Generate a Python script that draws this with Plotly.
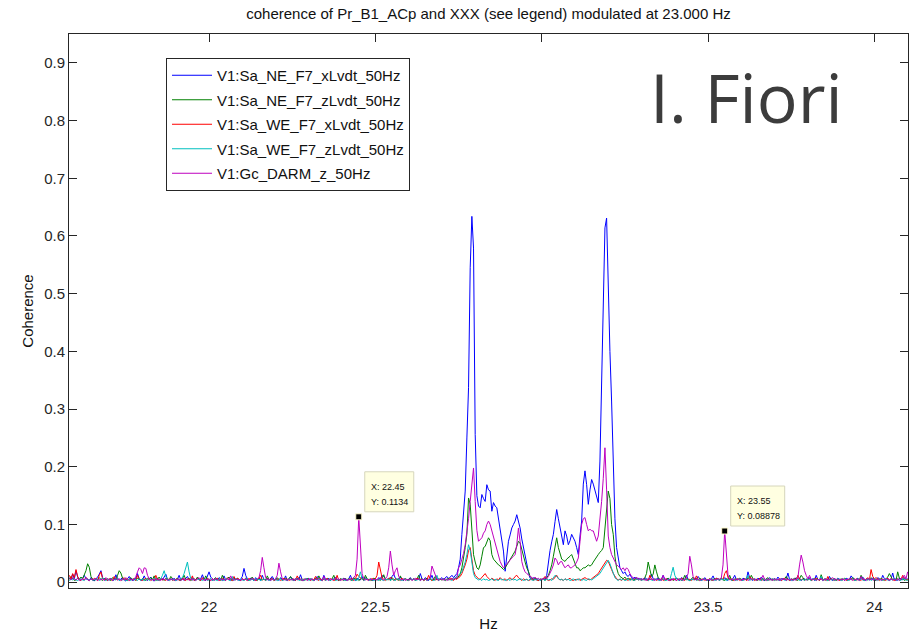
import numpy as np
import plotly.graph_objects as go

# Frequency grid (Hz): 21.58 .. 24.10 in 0.005 Hz bins
f_start = 21.58
f_step = 0.005
n_bins = 505

# Coherence values, in units of 0.001
# (4 bins 21.580-21.595, then one row per 0.1 Hz from 21.6 to 24.0, then 24.10)
coh_NE_x_milli = [
    8, 4, 14, 6,
    20, 9, 5, 3, 7, 12, 6, 4, 3, 8, 5, 2, 6, 9, 14, 20, 8, 4, 6, 3,
    5, 7, 3, 4, 13, 6, 3, 5, 8, 4, 2, 6, 10, 5, 3, 4, 7, 15, 6, 3,
    4, 11, 5, 3, 6, 9, 4, 2, 5, 7, 3, 6, 4, 8, 14, 5, 3, 6, 4, 7,
    3, 5, 12, 4, 6, 3, 7, 10, 5, 4, 8, 3, 5, 7, 4, 6, 13, 5, 3, 12,
    18, 9, 5, 3, 6, 4, 8, 5, 3, 11, 4, 6, 9, 3, 5, 8, 4, 6, 3, 5,
    10, 24, 12, 6, 4, 7, 5, 3, 8, 4, 6, 3, 12, 5, 4, 7, 3, 6, 10, 5,
    4, 6, 3, 8, 5, 4, 11, 3, 5, 9, 6, 4, 3, 7, 5, 13, 4, 3, 6, 5,
    7, 4, 6, 3, 5, 10, 6, 4, 3, 12, 5, 4, 7, 3, 6, 4, 9, 5, 3, 6,
    4, 7, 5, 3, 6, 12, 4, 5, 3, 7, 5, 4, 10, 3, 8, 5, 4, 6, 3, 5,
    6, 4, 8, 5, 12, 9, 6, 4, 7, 5, 10, 14, 7, 4, 6, 9, 5, 3, 7, 4,
    5, 8, 4, 6, 3, 7, 5, 15, 6, 4, 8, 5, 3, 6, 12, 4, 5, 7, 3, 6,
    8, 5, 7, 10, 6, 9, 12, 8, 11, 15, 25, 40, 83, 120, 158, 250, 337, 545, 634, 579,
    256, 150, 132, 129, 152, 145, 140, 169, 160, 158, 123, 138, 132, 129, 110, 89, 70, 54, 19, 45,
    71, 82, 94, 100, 106, 117, 105, 94, 75, 60, 45, 36, 18, 7, 5, 8, 4, 6, 3, 5,
    4, 7, 5, 12, 36, 55, 70, 83, 105, 126, 110, 94, 80, 65, 89, 80, 65, 72, 83, 78,
    71, 60, 48, 80, 106, 170, 193, 169, 135, 160, 178, 170, 158, 145, 138, 210, 360, 516, 614, 631,
    487, 400, 314, 198, 110, 60, 40, 25, 20, 15, 18, 12, 10, 14, 8, 6, 9, 5, 7, 4,
    6, 4, 8, 5, 3, 7, 14, 6, 4, 5, 8, 3, 6, 12, 5, 4, 7, 3, 5, 6,
    4, 7, 5, 3, 8, 6, 4, 12, 5, 3, 6, 4, 7, 5, 10, 6, 3, 5, 8, 4,
    5, 3, 6, 11, 4, 7, 5, 3, 6, 4, 8, 5, 3, 7, 4, 6, 12, 5, 4, 6,
    3, 7, 5, 4, 18, 8, 5, 3, 6, 4, 7, 5, 9, 4, 3, 6, 5, 8, 4, 5,
    6, 4, 9, 5, 3, 7, 4, 6, 16, 5, 3, 6, 4, 8, 5, 7, 3, 5, 6, 4,
    5, 8, 4, 6, 3, 12, 5, 4, 7, 3, 6, 5, 4, 10, 5, 3, 6, 4, 7, 5,
    4, 6, 3, 7, 5, 4, 11, 6, 3, 5, 7, 4, 6, 9, 5, 3, 6, 4, 5, 7,
    5, 3, 8, 6, 4, 12, 6, 4, 7, 3, 5, 16, 4, 6, 3, 7, 5, 4, 8, 5,
    6,
]

coh_NE_z_milli = [
    5, 10, 6, 3,
    4, 7, 5, 9, 6, 12, 20, 32, 26, 10, 5, 3, 6, 4, 8, 5, 3, 7, 4, 6,
    5, 3, 8, 6, 4, 12, 20, 16, 7, 4, 6, 3, 5, 8, 4, 6, 3, 7, 5, 4,
    6, 4, 3, 7, 5, 8, 4, 11, 3, 5, 9, 4, 6, 3, 7, 5, 4, 10, 6, 3,
    5, 7, 4, 3, 6, 12, 5, 4, 7, 3, 5, 6, 4, 9, 5, 3, 6, 4, 11, 5,
    4, 6, 3, 5, 8, 4, 6, 3, 12, 5, 4, 6, 9, 5, 3, 6, 4, 7, 5, 3,
    6, 4, 7, 5, 3, 6, 9, 4, 5, 3, 7, 5, 4, 6, 3, 11, 5, 4, 6, 3,
    5, 8, 4, 6, 3, 5, 7, 4, 6, 10, 5, 3, 6, 4, 8, 5, 3, 6, 4, 7,
    4, 6, 5, 3, 7, 4, 11, 5, 3, 6, 4, 7, 5, 3, 6, 12, 4, 5, 3, 6,
    5, 3, 7, 4, 6, 5, 3, 8, 4, 6, 3, 5, 7, 4, 12, 6, 4, 5, 3, 7,
    6, 4, 5, 3, 7, 13, 5, 4, 6, 3, 8, 5, 4, 6, 3, 11, 5, 4, 6, 3,
    5, 7, 4, 6, 3, 5, 12, 4, 6, 3, 5, 7, 4, 6, 3, 5, 10, 4, 6, 5,
    4, 6, 3, 5, 7, 4, 6, 5, 8, 6, 10, 14, 25, 40, 60, 83, 146, 135, 83, 48,
    35, 25, 22, 30, 45, 60, 62, 70, 77, 72, 48, 40, 36, 34, 30, 28, 25, 22, 25, 30,
    36, 40, 45, 50, 54, 62, 71, 68, 55, 48, 35, 25, 19, 10, 6, 4, 7, 5, 3, 6,
    4, 6, 3, 8, 12, 20, 30, 45, 65, 77, 60, 48, 40, 38, 36, 40, 42, 45, 48, 40,
    30, 25, 25, 20, 22, 25, 25, 28, 30, 28, 30, 35, 40, 45, 48, 52, 55, 60, 90, 123,
    158, 145, 100, 83, 45, 25, 15, 10, 8, 6, 9, 5, 7, 4, 6, 3, 5, 8, 4, 6,
    5, 4, 8, 15, 35, 20, 10, 14, 30, 18, 8, 5, 4, 6, 3, 5, 7, 4, 6, 3,
    5, 7, 4, 6, 3, 5, 12, 4, 6, 3, 5, 9, 4, 6, 3, 7, 5, 4, 6, 3,
    4, 6, 5, 3, 7, 4, 6, 5, 8, 4, 3, 6, 5, 12, 4, 3, 6, 5, 4, 7,
    5, 3, 6, 4, 8, 5, 12, 6, 4, 5, 3, 7, 4, 6, 3, 5, 8, 4, 6, 3,
    6, 4, 5, 3, 7, 4, 6, 10, 5, 3, 6, 4, 7, 5, 3, 6, 12, 8, 4, 5,
    4, 6, 3, 5, 7, 4, 6, 3, 13, 5, 4, 6, 3, 5, 7, 4, 6, 3, 5, 4,
    6, 4, 7, 5, 3, 6, 4, 8, 5, 3, 6, 4, 12, 5, 3, 6, 4, 5, 8, 4,
    5, 3, 6, 4, 7, 5, 3, 6, 9, 15, 8, 4, 6, 3, 18, 7, 4, 6, 3, 5,
    4,
]

coh_WE_x_milli = [
    12, 6, 15, 8,
    22, 10, 5, 3, 6, 4, 8, 5, 3, 6, 4, 7, 5, 3, 12, 18, 6, 4, 5, 3,
    6, 4, 3, 10, 5, 4, 6, 3, 5, 8, 4, 6, 3, 5, 4, 7, 3, 12, 6, 4,
    3, 5, 7, 4, 6, 3, 5, 4, 12, 5, 3, 6, 4, 5, 3, 7, 4, 6, 3, 5,
    4, 6, 3, 5, 7, 4, 3, 6, 5, 4, 11, 3, 5, 6, 4, 3, 8, 5, 4, 6,
    5, 3, 6, 4, 5, 7, 3, 4, 6, 5, 3, 8, 4, 5, 3, 10, 4, 7, 5, 3,
    6, 4, 5, 3, 7, 4, 6, 5, 3, 4, 6, 12, 4, 5, 3, 6, 4, 5, 7, 3,
    5, 4, 6, 3, 5, 7, 4, 6, 3, 5, 4, 6, 3, 11, 5, 4, 6, 3, 5, 4,
    6, 3, 5, 4, 10, 5, 3, 6, 4, 5, 3, 7, 4, 6, 5, 3, 4, 12, 3, 5,
    4, 6, 3, 5, 4, 7, 5, 3, 6, 14, 10, 8, 5, 3, 6, 4, 5, 3, 7, 4,
    6, 12, 35, 22, 8, 5, 3, 6, 4, 9, 5, 3, 6, 4, 5, 3, 7, 4, 6, 5,
    3, 5, 4, 6, 3, 7, 5, 4, 6, 3, 5, 4, 12, 5, 3, 6, 4, 5, 3, 6,
    4, 5, 3, 6, 4, 7, 5, 3, 6, 5, 8, 10, 15, 22, 30, 40, 55, 60, 40, 20,
    12, 8, 6, 5, 8, 12, 15, 10, 6, 4, 7, 5, 3, 6, 4, 8, 5, 4, 6, 3,
    5, 8, 4, 6, 10, 12, 8, 5, 3, 6, 4, 5, 3, 4, 6, 3, 5, 4, 3, 5,
    4, 6, 10, 5, 3, 4, 6, 5, 8, 12, 6, 4, 5, 3, 6, 4, 5, 7, 4, 3,
    5, 4, 6, 3, 5, 7, 8, 6, 5, 4, 6, 8, 10, 12, 15, 20, 25, 30, 35, 38,
    36, 30, 22, 15, 10, 6, 4, 5, 3, 6, 4, 5, 3, 7, 4, 5, 3, 6, 4, 5,
    3, 6, 4, 5, 3, 12, 5, 4, 6, 3, 5, 4, 7, 3, 5, 6, 4, 3, 5, 4,
    6, 3, 5, 4, 7, 5, 3, 6, 4, 5, 3, 6, 4, 11, 5, 3, 4, 6, 3, 5,
    4, 6, 3, 5, 4, 7, 5, 3, 6, 4, 15, 20, 8, 4, 6, 3, 5, 4, 7, 3,
    5, 4, 6, 3, 5, 10, 4, 6, 3, 5, 4, 7, 3, 5, 6, 4, 3, 5, 4, 6,
    3, 5, 4, 6, 3, 5, 7, 4, 6, 3, 5, 4, 6, 3, 12, 5, 4, 6, 3, 5,
    4, 6, 3, 5, 4, 7, 5, 3, 6, 4, 5, 3, 10, 4, 6, 5, 3, 4, 6, 3,
    5, 4, 6, 3, 5, 4, 7, 5, 3, 6, 4, 5, 3, 6, 4, 5, 8, 4, 22, 10,
    6, 8, 5, 3, 6, 4, 5, 3, 7, 4, 6, 5, 3, 4, 6, 3, 5, 12, 6, 4,
    5,
]

coh_WE_z_milli = [
    3, 5, 4, 6,
    4, 3, 5, 6, 4, 3, 7, 5, 4, 6, 3, 5, 4, 6, 3, 5, 8, 4, 3, 5,
    4, 6, 3, 5, 4, 7, 3, 5, 4, 6, 3, 4, 5, 3, 6, 4, 5, 3, 6, 4,
    5, 3, 4, 6, 3, 5, 4, 7, 5, 3, 4, 6, 12, 20, 10, 5, 3, 6, 4, 5,
    3, 5, 4, 6, 8, 15, 25, 35, 18, 6, 4, 5, 3, 6, 4, 5, 3, 4, 6, 3,
    4, 6, 3, 5, 4, 3, 6, 5, 4, 3, 5, 6, 3, 4, 10, 3, 6, 4, 3, 5,
    4, 3, 5, 6, 3, 4, 5, 3, 6, 4, 5, 3, 4, 6, 3, 5, 4, 3, 6, 4,
    5, 3, 4, 6, 3, 5, 4, 3, 6, 5, 4, 3, 5, 6, 3, 4, 5, 3, 4, 6,
    3, 5, 4, 3, 6, 4, 5, 3, 4, 6, 3, 5, 4, 3, 5, 6, 3, 4, 5, 3,
    6, 4, 3, 5, 4, 6, 3, 5, 4, 3, 8, 18, 6, 3, 5, 6, 3, 4, 5, 3,
    4, 5, 3, 6, 4, 3, 5, 4, 6, 3, 5, 4, 3, 6, 5, 4, 3, 5, 6, 4,
    3, 5, 4, 6, 3, 4, 5, 3, 6, 4, 5, 3, 4, 6, 5, 3, 4, 12, 3, 6,
    4, 5, 3, 6, 4, 5, 3, 6, 8, 10, 12, 15, 18, 25, 35, 48, 65, 55, 30, 15,
    8, 6, 4, 5, 3, 6, 4, 5, 3, 4, 6, 3, 5, 4, 3, 6, 4, 5, 3, 4,
    5, 3, 6, 4, 5, 3, 4, 6, 5, 3, 4, 5, 3, 6, 4, 3, 5, 4, 6, 3,
    4, 5, 3, 6, 4, 5, 3, 8, 12, 10, 6, 4, 5, 3, 6, 4, 5, 3, 4, 6,
    3, 5, 4, 6, 3, 5, 4, 3, 6, 5, 4, 6, 8, 10, 12, 15, 20, 25, 30, 35,
    38, 32, 25, 15, 8, 5, 3, 6, 4, 5, 3, 4, 6, 3, 5, 4, 3, 6, 4, 5,
    3, 5, 4, 6, 3, 5, 4, 3, 6, 5, 4, 3, 5, 6, 4, 3, 5, 4, 15, 26,
    12, 6, 3, 5, 4, 3, 6, 5, 4, 3, 5, 4, 6, 3, 5, 4, 3, 6, 5, 4,
    3, 5, 4, 6, 3, 4, 5, 3, 6, 4, 5, 3, 4, 6, 3, 5, 4, 3, 6, 5,
    4, 3, 5, 6, 12, 3, 5, 4, 6, 3, 5, 4, 3, 6, 5, 4, 3, 5, 4, 6,
    3, 5, 4, 3, 6, 5, 4, 3, 5, 6, 4, 3, 5, 4, 6, 3, 4, 5, 3, 6,
    4, 5, 3, 6, 4, 3, 5, 4, 10, 3, 5, 4, 3, 6, 4, 5, 3, 4, 6, 5,
    3, 4, 6, 5, 3, 4, 5, 6, 3, 4, 5, 3, 6, 4, 3, 5, 4, 6, 3, 5,
    4, 6, 3, 5, 4, 3, 6, 5, 4, 3, 5, 4, 6, 3, 5, 4, 3, 6, 5, 4,
    3,
]

coh_DARM_milli = [
    6, 4, 8, 5,
    4, 7, 3, 5, 6, 4, 8, 5, 3, 6, 4, 5, 7, 3, 5, 4, 6, 3, 8, 5,
    4, 6, 3, 5, 7, 4, 6, 3, 5, 4, 8, 5, 3, 6, 4, 5, 10, 18, 25, 22,
    15, 25, 24, 12, 6, 4, 5, 3, 6, 4, 5, 3, 7, 4, 6, 3, 5, 4, 6, 3,
    5, 4, 6, 3, 5, 7, 4, 6, 3, 5, 4, 6, 3, 5, 8, 4, 6, 3, 5, 4,
    6, 3, 5, 4, 7, 5, 3, 6, 4, 5, 3, 6, 4, 11, 5, 3, 6, 4, 5, 3,
    5, 4, 6, 3, 5, 4, 7, 5, 3, 6, 8, 20, 43, 25, 8, 4, 6, 3, 5, 4,
    6, 12, 33, 18, 6, 4, 5, 3, 6, 4, 5, 3, 7, 4, 6, 5, 3, 4, 6, 3,
    5, 4, 6, 3, 5, 4, 7, 5, 3, 10, 4, 5, 3, 6, 4, 5, 8, 4, 6, 3,
    5, 4, 6, 3, 5, 4, 6, 8, 12, 40, 113, 60, 15, 6, 4, 5, 3, 6, 4, 5,
    5, 4, 6, 8, 5, 4, 6, 10, 25, 54, 30, 12, 20, 25, 10, 5, 4, 6, 3, 5,
    4, 6, 3, 5, 7, 4, 6, 3, 5, 4, 6, 3, 5, 8, 28, 20, 10, 5, 4, 6,
    5, 4, 6, 3, 5, 4, 7, 5, 6, 8, 25, 30, 40, 50, 65, 85, 110, 140, 175, 198,
    140, 90, 71, 75, 77, 85, 89, 100, 106, 100, 89, 80, 71, 60, 45, 36, 30, 25, 28, 32,
    36, 40, 42, 45, 48, 65, 94, 70, 36, 25, 18, 15, 13, 10, 8, 6, 9, 5, 7, 4,
    6, 5, 8, 6, 10, 15, 22, 30, 42, 38, 30, 35, 36, 30, 25, 28, 30, 25, 25, 28,
    30, 35, 42, 70, 100, 110, 112, 100, 89, 92, 89, 89, 80, 71, 80, 106, 140, 180, 233, 160,
    80, 60, 48, 42, 36, 30, 28, 25, 22, 25, 20, 25, 22, 15, 10, 8, 6, 9, 5, 7,
    4, 6, 5, 3, 7, 4, 6, 5, 3, 6, 4, 5, 3, 12, 4, 6, 3, 5, 4, 6,
    5, 3, 6, 4, 5, 3, 6, 8, 15, 45, 30, 10, 5, 4, 6, 3, 5, 4, 6, 3,
    5, 4, 6, 3, 5, 4, 6, 5, 8, 30, 89, 50, 12, 5, 4, 6, 3, 5, 4, 6,
    3, 5, 4, 6, 3, 5, 7, 4, 6, 3, 5, 4, 6, 12, 5, 3, 6, 4, 5, 3,
    6, 4, 5, 3, 7, 4, 6, 3, 5, 4, 6, 3, 5, 4, 8, 30, 47, 35, 20, 12,
    6, 12, 5, 4, 6, 3, 5, 4, 7, 3, 5, 4, 6, 3, 5, 8, 4, 6, 3, 5,
    4, 6, 3, 5, 4, 7, 5, 3, 6, 4, 5, 3, 10, 4, 5, 3, 7, 4, 6, 5,
    3, 5, 4, 6, 3, 5, 4, 7, 5, 3, 6, 4, 5, 3, 6, 4, 5, 8, 12, 6,
    18,
]

series_names = [
    "V1:Sa_NE_F7_xLvdt_50Hz",
    "V1:Sa_NE_F7_zLvdt_50Hz",
    "V1:Sa_WE_F7_xLvdt_50Hz",
    "V1:Sa_WE_F7_zLvdt_50Hz",
    "V1:Gc_DARM_z_50Hz",
]
series_colors = ["#0000ff", "#008000", "#ff0000", "#00bfbf", "#bf00bf"]
series_values = [coh_NE_x_milli, coh_NE_z_milli, coh_WE_x_milli, coh_WE_z_milli, coh_DARM_milli]

# data tips
tip_x = [22.45, 23.55]
tip_y = [0.1134, 0.08878]
tip_lines = [["X: 22.45", "Y: 0.1134"], ["X: 23.55", "Y: 0.08878"]]

x_ticks = [22, 22.5, 23, 23.5, 24]
y_ticks = [0, 0.1, 0.2, 0.3, 0.4, 0.5, 0.6, 0.7, 0.8, 0.9]

freq = np.round(f_start + f_step * np.arange(n_bins), 3)

FONT = "Liberation Sans, Arial, sans-serif"
AX = "#262626"

fig = go.Figure()
for name, color, vals in zip(series_names, series_colors, series_values):
    assert len(vals) == n_bins, (name, len(vals))
    fig.add_trace(go.Scatter(
        x=freq, y=np.array(vals) / 1000.0, mode="lines", name=name,
        legendgroup=name,
        line=dict(color=color, width=1),
    ))

fig.add_trace(go.Scatter(
    x=tip_x, y=tip_y, mode="markers", showlegend=False,
    marker=dict(symbol="square", size=6, color="black",
                line=dict(color="#fffbd0", width=1)),
))

# data-tip boxes (pixel-sized, anchored at the tip point)
for tx, ty, lines, w in zip(tip_x, tip_y, tip_lines, [49, 54]):
    fig.add_shape(
        type="rect", xref="x", yref="y", xsizemode="pixel", ysizemode="pixel",
        xanchor=tx, yanchor=ty, x0=6, x1=6 + w, y0=5, y1=45,
        fillcolor="#ffffe1", line=dict(color="#d6d6bc", width=1), layer="above",
    )
    for ln, dy in zip(lines, [30, 15]):
        fig.add_annotation(
            x=tx, y=ty, xref="x", yref="y", text=ln, showarrow=False,
            xanchor="left", yanchor="middle", xshift=10, yshift=dy,
            font=dict(family=FONT, size=9, color="#111"),
        )

fig.add_annotation(
    x=(746 - 69) / 839, y=1 - (96.5 - 34) / 554, xref="paper", yref="paper",
    text="I. Fiori", showarrow=False, xanchor="center", yanchor="middle",
    font=dict(family="Open Sans, DejaVu Sans, sans-serif", size=68, color="#3c3c3c"),
)

fig.update_layout(
    width=916, height=632,
    margin=dict(l=69, r=8, t=34, b=44),
    paper_bgcolor="white", plot_bgcolor="white",
    font=dict(family=FONT, size=15, color=AX),
    title=dict(text="coherence of Pr_B1_ACp and XXX (see legend) modulated at 23.000 Hz",
               x=(69 + 908) / 2 / 916, xanchor="center", xref="container",
               y=1 - 14 / 632, yanchor="middle", yref="container",
               font=dict(family=FONT, size=15, color="#111")),
    showlegend=True,
    legend=dict(x=(166 - 69) / 839, y=1 - (58 - 34) / 554, xanchor="left", yanchor="top",
                bgcolor="white", bordercolor=AX, borderwidth=1,
                font=dict(family=FONT, size=15, color="#111"),
                tracegroupgap=2, itemwidth=40),
)
fig.update_xaxes(
    range=[21.579, 24.101], tickvals=x_ticks, ticktext=[str(v) for v in x_ticks],
    ticks="inside", ticklen=8, tickwidth=1, tickcolor=AX, ticklabelstandoff=5,
    showline=True, linecolor=AX, linewidth=1, mirror="ticks",
    showgrid=False, zeroline=False, automargin=False,
    title=dict(text="Hz", standoff=8, font=dict(family=FONT, size=15, color="#111")),
)
fig.update_yaxes(
    range=[-0.01, 0.95], tickvals=y_ticks, ticktext=["0"] + [f"{v:.1f}" for v in y_ticks[1:]],
    ticks="inside", ticklen=8, tickwidth=1, tickcolor=AX,
    showline=True, linecolor=AX, linewidth=1, mirror="ticks",
    showgrid=False, zeroline=False, automargin=False,
    title=dict(text="Coherence", standoff=6, font=dict(family=FONT, size=15, color="#111")),
)

fig.write_html("out.html")
